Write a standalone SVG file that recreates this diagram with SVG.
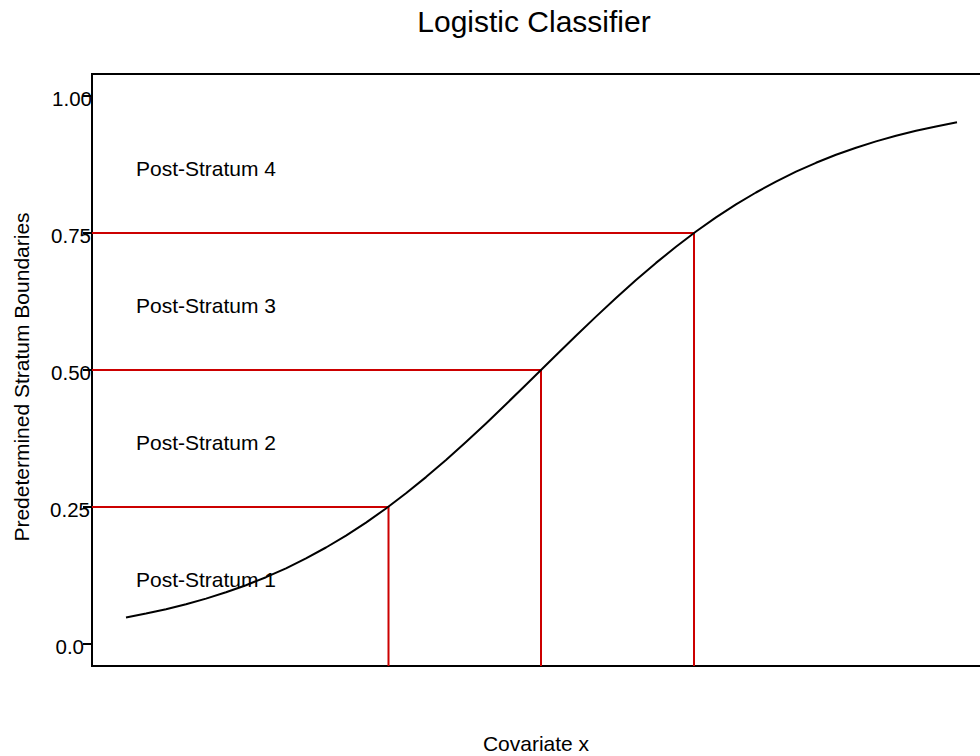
<svg xmlns="http://www.w3.org/2000/svg" width="980" height="756" viewBox="0 0 980 756">
<style>
text{font-family:"Liberation Sans",Arial,sans-serif;fill:#000}
.lbl{font-size:21px}
.tick{font-size:20.5px;text-anchor:end}
.axis{stroke:#000;stroke-width:2;fill:none}
.red{stroke:#cc0000;stroke-width:2;fill:none}
.curve{stroke:#000;stroke-width:2;fill:none;stroke-linejoin:round}
</style>
<rect width="980" height="756" fill="#fff"/>
<g id="title"><text x="534" y="32" font-size="30" text-anchor="middle">Logistic Classifier</text></g>
<g id="frame">
<line class="axis" x1="92" y1="74" x2="980" y2="74"/>
<line class="axis" x1="92" y1="666" x2="980" y2="666"/>
<line class="axis" x1="92" y1="73" x2="92" y2="667" stroke-width="2.5"/>
</g>
<g id="ticks">
<line class="axis" x1="83" y1="96" x2="92" y2="96"/>
<line class="axis" x1="83" y1="233" x2="92" y2="233"/>
<line class="axis" x1="83" y1="370" x2="92" y2="370"/>
<line class="axis" x1="83" y1="507" x2="92" y2="507"/>
<line class="axis" x1="83" y1="644" x2="92" y2="644"/>
<text class="tick" x="92" y="106">1.00</text>
<text class="tick" x="91" y="243">0.75</text>
<text class="tick" x="91" y="380">0.50</text>
<text class="tick" x="90" y="517">0.25</text>
<text class="tick" x="84" y="654">0.0</text>
</g>
<g id="connectors">
<polyline class="red" points="92,507 388.5,507 388.5,666"/>
<polyline class="red" points="92,370 541,370 541,666"/>
<polyline class="red" points="92,233 694,233 694,666"/>
</g>
<g id="curve">
<polyline class="curve" points="126,617.5 146,613.6 166,609.2 186,604.2 206,598.6 226,592.3 246,585.2 266,577.2 286,568.3 306,558.4 326,547.5 346,535.6 366,522.6 386,508.5 406,493.2 426,477.1 446,460 466,442 486,423.4 506,404.2 526,384.8 541,370 556,355.2 576,335.8 596,316.6 616,298 636,280 656,262.9 676,246.8 696,231.5 716,217.4 736,204.4 756,192.5 776,181.6 796,171.7 816,162.8 836,154.8 856,147.7 876,141.4 896,135.8 916,130.8 936,126.4 957,122.2"/>
</g>
<g id="labels">
<text class="lbl" x="136" y="176">Post-Stratum 4</text>
<text class="lbl" x="136" y="313">Post-Stratum 3</text>
<text class="lbl" x="136" y="450">Post-Stratum 2</text>
<text class="lbl" x="136" y="587">Post-Stratum 1</text>
</g>
<g id="axis-titles">
<text class="lbl" x="536" y="751" text-anchor="middle">Covariate x</text>
<text class="lbl" transform="translate(29,377) rotate(-90)" text-anchor="middle">Predetermined Stratum Boundaries</text>
</g>
</svg>
